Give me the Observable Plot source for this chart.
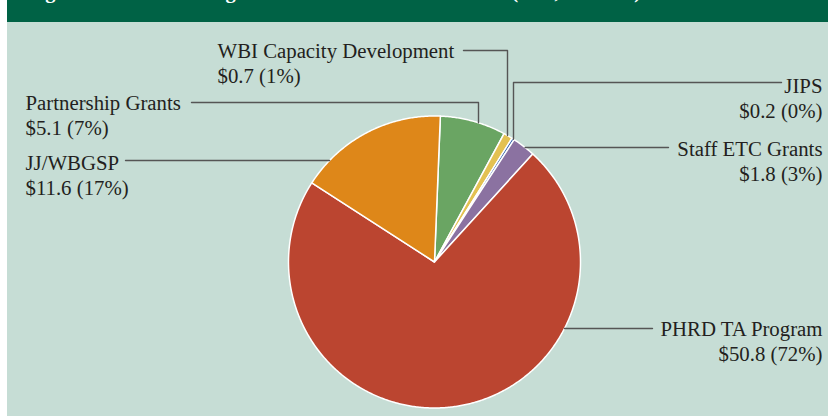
<!DOCTYPE html>
<html>
<head>
<meta charset="utf-8">
<script src="https://cdn.jsdelivr.net/npm/d3@7"></script>
<script src="https://cdn.jsdelivr.net/npm/@observablehq/plot@0.6"></script>
<style>
  html, body { margin: 0; padding: 0; background: #ffffff; }
  #wrap { margin-left: 7px; width: 821px; }
  #title { position: relative; height: 22px; background: #006245; overflow: hidden; }
  #title span { position: absolute; left: 20px; top: -19px; font: bold 20.5px "Liberation Serif", "DejaVu Serif", serif; color: #ffffff; white-space: nowrap; line-height: 20px; }
  #chart svg { display: block; }
</style>
</head>
<body>
<div id="wrap">
  <div id="title"><span>Figure 2: Total Funding under the Trust Fund Account (US$, millions)</span></div>
  <div id="chart"></div>
</div>
<script>
// ---- data ----
const names = ["Partnership Grants", "WBI Capacity Development", "JIPS", "Staff ETC Grants", "PHRD TA Program", "JJ/WBGSP"];
const amounts = [5.1, 0.7, 0.2, 1.8, 50.8, 11.6];
const shares = ["7%", "1%", "0%", "3%", "72%", "17%"];

// ---- styles ----
const colors = ["#6aa563", "#e3c152", "#2d5ea8", "#8b72a1", "#bb4530", "#de8719"];
const bg = "#c6ddd5";
const inkColor = "#231f20";
const leaderColor = "#555555";

// ---- layout (page pixel positions of the pie and labels) ----
const W = 821, H = 394, left0 = 7, top0 = 22;
const cx = 434, cy = 261.5, R = 146;
const startDeg = 2.3;
const fontSize = 20.8;
// label: anchor, text x, first baseline; leader: start point, elbow, direction of last segment
const labelLayout = [
  {anchor: "start", tx: 25,  base: 107, lead: [191, 102], elbow: [478, 102], end: "down"},
  {anchor: "start", tx: 217, base: 55,  lead: [463, 50],  elbow: [507, 50],  end: "down"},
  {anchor: "end",   tx: 822, base: 90,  lead: [781, 82],  elbow: [513, 82],  end: "down"},
  {anchor: "end",   tx: 822, base: 153, lead: [668, 147], elbow: null,       end: "left"},
  {anchor: "end",   tx: 822, base: 333, lead: [652, 328], elbow: null,       end: "left"},
  {anchor: "start", tx: 25,  base: 167, lead: [125, 160], elbow: null,       end: "right"}
];

// page px -> data coords (pie centre at origin, y up)
const X = px => px - cx;
const Y = py => cy - py;

// ---- pie slices from the data ----
const arcs = d3.pie().sort(null)
  .startAngle(startDeg * Math.PI / 180)
  .endAngle(startDeg * Math.PI / 180 + 2 * Math.PI)(amounts);

const slicePts = [];
arcs.forEach((a, i) => {
  slicePts.push({name: names[i], color: colors[i], x: 0, y: 0});
  const n = Math.max(2, Math.ceil((a.endAngle - a.startAngle) / (Math.PI / 360)));
  for (let k = 0; k <= n; k++) {
    const t = a.startAngle + (a.endAngle - a.startAngle) * k / n;
    slicePts.push({name: names[i], color: colors[i], x: R * Math.sin(t), y: R * Math.cos(t)});
  }
});

// ---- leaders ----
const leaderPts = [];
labelLayout.forEach((L, i) => {
  const pts = [[L.lead[0], L.lead[1]]];
  let last;
  if (L.end === "down") {
    pts.push(L.elbow);
    const dx = X(L.elbow[0]);
    last = [L.elbow[0], cy - Math.sqrt(R * R - dx * dx)];
  } else {
    const dy = Y(L.lead[1]);
    const w = Math.sqrt(R * R - dy * dy);
    last = [L.end === "left" ? cx + w : cx - w, L.lead[1]];
  }
  pts.push(last);
  pts.forEach(p => leaderPts.push({name: names[i], x: X(p[0]), y: Y(p[1])}));
});

// ---- labels ----
const labels = names.map((nm, i) => ({
  text: `${nm}\n$${amounts[i]} (${shares[i]})`,
  anchor: labelLayout[i].anchor,
  x: X(labelLayout[i].tx),
  y: Y(labelLayout[i].base - 0.71 * fontSize)
}));

const chart = Plot.plot({
  width: W,
  height: H,
  margin: 0,
  style: {background: bg, fontFamily: "'Liberation Serif', 'DejaVu Serif', serif"},
  x: {domain: [X(left0), X(left0 + W)], axis: null},
  y: {domain: [Y(top0 + H), Y(top0)], axis: null},
  marks: [
    Plot.line(slicePts, {x: "x", y: "y", z: "name", fill: "color", stroke: "#ffffff", strokeWidth: 1.5, curve: "linear-closed", strokeLinejoin: "round"}),
    Plot.line(leaderPts, {x: "x", y: "y", z: "name", stroke: leaderColor, strokeWidth: 1.4}),
    Plot.text(labels.filter(d => d.anchor === "start"), {x: "x", y: "y", text: "text", textAnchor: "start", lineAnchor: "top", lineHeight: 25 / fontSize, fontSize: fontSize, fill: inkColor}),
    Plot.text(labels.filter(d => d.anchor === "end"), {x: "x", y: "y", text: "text", textAnchor: "end", lineAnchor: "top", lineHeight: 25 / fontSize, fontSize: fontSize, fill: inkColor})
  ]
});
document.getElementById("chart").appendChild(chart);
</script>
</body>
</html>
